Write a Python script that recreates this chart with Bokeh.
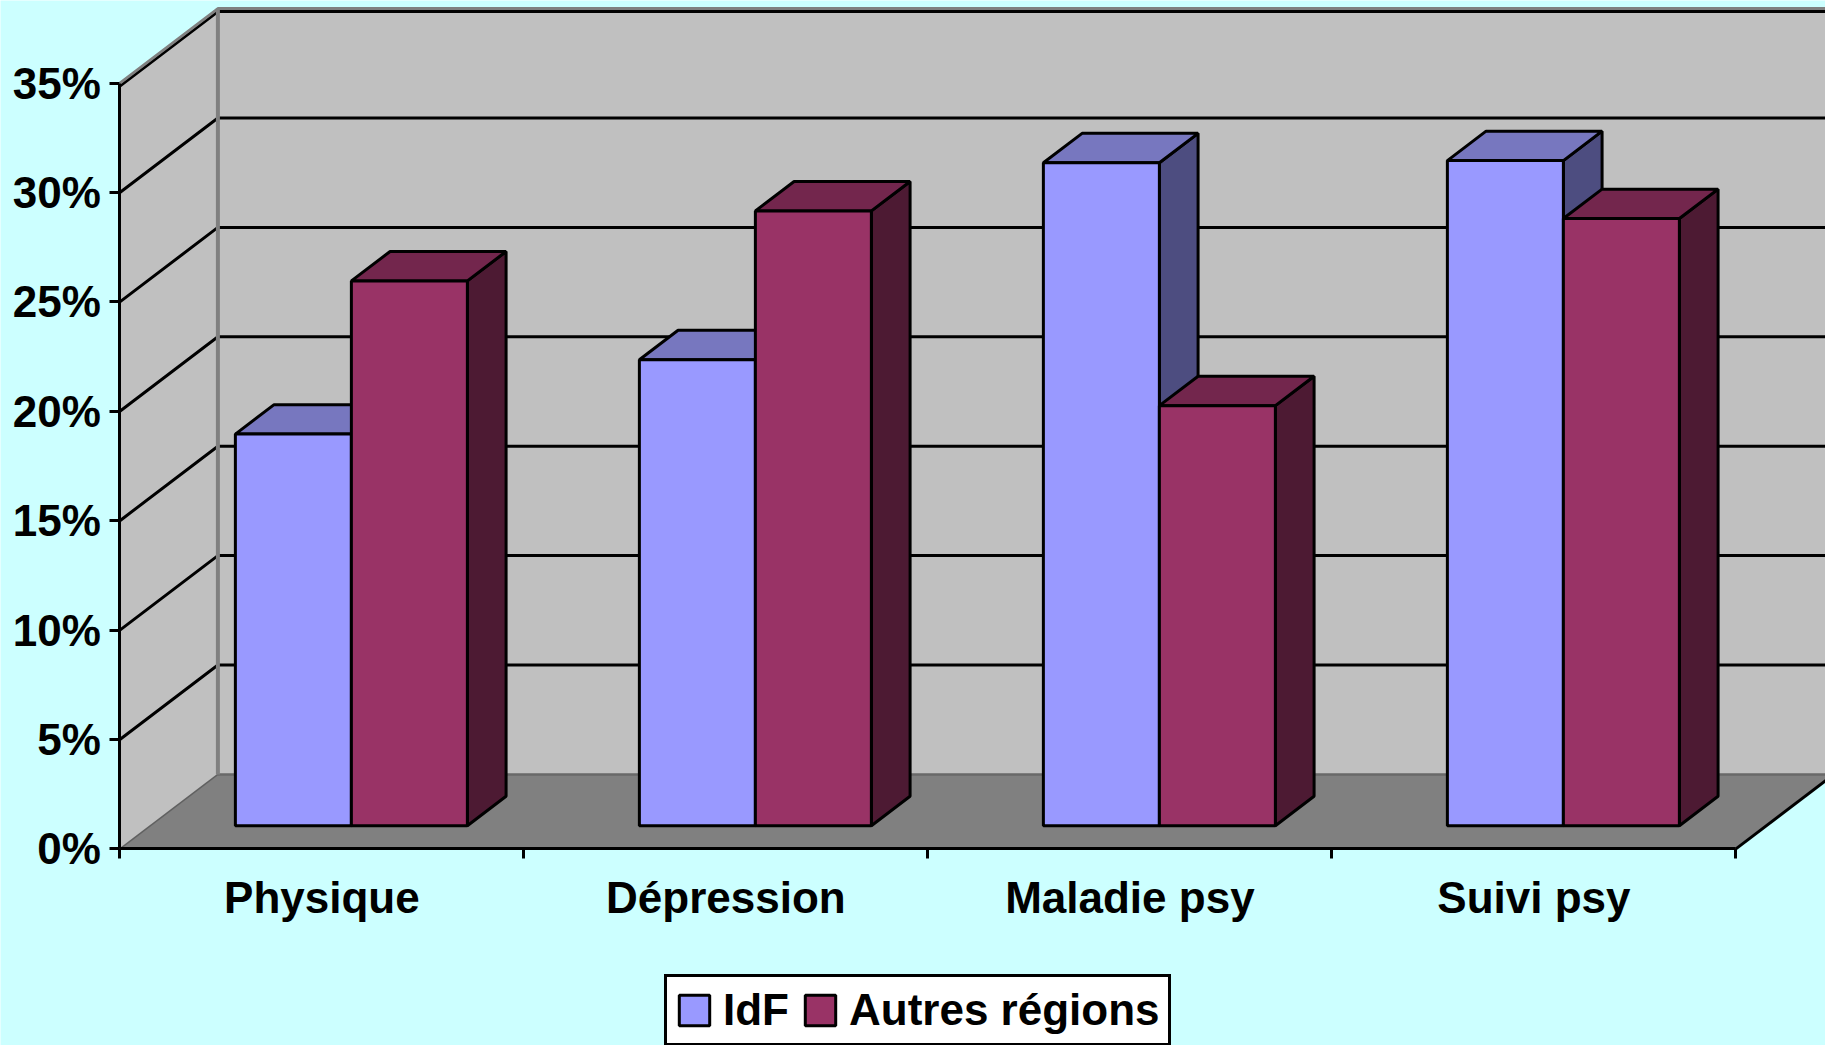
from bokeh.plotting import figure
from bokeh.models import Range1d, FixedTicker, Legend, LegendItem
from bokeh.embed import file_html
from bokeh.resources import INLINE

categories = ["Physique", "Dépression", "Maladie psy", "Suivi psy"]
series_names = ["IdF", "Autres régions"]
idf = [17.9, 21.3, 30.3, 30.4]
autres = [24.9, 28.1, 19.2, 27.75]
y_ticks = [0, 5, 10, 15, 20, 25, 30, 35]
y_labels = ["0%", "5%", "10%", "15%", "20%", "25%", "30%", "35%"]

BG = "#CCFFFF"
WALL = "#C0C0C0"
FLOOR = "#808080"
FONT = "Liberation Sans"
FONT_SIZE = "44px"
FRONT = ["#9999FF", "#993366"]
TOP = ["#7777BF", "#73264D"]
SIDE = ["#4D4D80", "#4D1A33"]

WIDTH, HEIGHT = 1825, 1045
ORIGIN_X, ORIGIN_Y = 119.4, 848.4   # page position of the front corner of the box
PX_CAT = 404.0       # pixels per category
PX_PCT = 21.88       # pixels per percentage point
DX = 98 / PX_CAT     # depth of the box, x
DY = 74.5 / PX_PCT   # depth of the box, y
D0, D1 = 0.311, 0.706  # depth span of the bars
GROUP_OFF = 85 / PX_CAT
BAR_W = 116 / PX_CAT
BOX_R = len(categories)
TOP_V = y_ticks[-1]

p = figure(width=WIDTH, height=HEIGHT, output_backend="svg", toolbar_location=None,
           x_range=Range1d(-ORIGIN_X / PX_CAT, (WIDTH - ORIGIN_X) / PX_CAT),
           y_range=Range1d(-(HEIGHT - ORIGIN_Y) / PX_PCT, ORIGIN_Y / PX_PCT),
           min_border=0, background_fill_color=BG, border_fill_color=BG, outline_line_color=None)
p.grid.visible = False

# walls and floor
p.patch([0, DX, DX, 0], [0, DY, TOP_V + DY, TOP_V], fill_color=WALL, line_color=None)
p.patch([DX, BOX_R + DX, BOX_R + DX, DX], [DY, DY, TOP_V + DY, TOP_V + DY], fill_color=WALL, line_color=None)
p.patch([0, BOX_R, BOX_R + DX, DX], [0, 0, DY, DY], fill_color=FLOOR, line_color=None)
p.line([0, DX], [0, DY], line_color="#606060", line_width=1.5)
p.line([DX, BOX_R + DX], [DY, DY], line_color="#696969", line_width=2.5)
p.line([BOX_R, BOX_R + DX], [0, DY], line_color="black", line_width=3)

# grid lines on the two walls
top_shift = 3 / PX_PCT
for v in y_ticks[1:]:
    s = top_shift if v == TOP_V else 0
    p.line([0, DX, BOX_R + DX], [v - s, v + DY - s, v + DY - s], line_color="black", line_width=3)
p.line([0, DX, BOX_R + DX], [TOP_V, TOP_V + DY, TOP_V + DY], line_color=FLOOR, line_width=3)
p.line([DX, DX], [DY, TOP_V + DY], line_color=FLOOR, line_width=4)

# bars
front_renderers = []
for s, values in enumerate([idf, autres]):
    xs0 = [i + GROUP_OFF + s * BAR_W + D0 * DX for i in range(len(values))]
    y0 = D0 * DY
    dxb, dyb = (D1 - D0) * DX, (D1 - D0) * DY
    for x, v in zip(xs0, values):
        yt = y0 + v
        p.patch([x + BAR_W, x + BAR_W + dxb, x + BAR_W + dxb, x + BAR_W],
                [y0, y0 + dyb, yt + dyb, yt], fill_color=SIDE[s], line_color="black", line_width=3)
        p.patch([x, x + dxb, x + BAR_W + dxb, x + BAR_W],
                [yt, yt + dyb, yt + dyb, yt], fill_color=TOP[s], line_color="black", line_width=3)
    r = p.quad(left=xs0, right=[x + BAR_W for x in xs0], bottom=[y0] * len(values),
               top=[y0 + v for v in values], fill_color=FRONT[s], line_color="black", line_width=3)
    front_renderers.append(r)

# axes, fixed at the front edges of the box
yax = p.yaxis[0]
yax.fixed_location = 0
yax.ticker = FixedTicker(ticks=y_ticks)
yax.major_label_overrides = dict(zip(y_ticks, y_labels))
yax.bounds = (0, TOP_V)
yax.axis_line_color = "black"
yax.axis_line_width = 3
yax.major_tick_line_color = "black"
yax.major_tick_line_width = 3
yax.major_tick_out = 10
yax.major_tick_in = 0
yax.minor_tick_line_color = None
yax.major_label_standoff = 9
yax.major_label_text_font = FONT
yax.major_label_text_font_style = "bold"
yax.major_label_text_font_size = FONT_SIZE
yax.major_label_text_color = "black"

xax = p.xaxis[0]
xax.fixed_location = 0
centres = [i + 0.5 for i in range(len(categories))]
xax.ticker = FixedTicker(ticks=centres, minor_ticks=list(range(len(categories) + 1)))
xax.major_label_overrides = dict(zip(centres, categories))
xax.bounds = (0, BOX_R)
xax.axis_line_color = "black"
xax.axis_line_width = 3
xax.major_tick_line_color = None
xax.major_tick_out = 0
xax.major_tick_in = 0
xax.minor_tick_line_color = "black"
xax.minor_tick_line_width = 3
xax.minor_tick_out = 10
xax.minor_tick_in = 0
xax.major_label_standoff = 14
xax.major_label_text_font = FONT
xax.major_label_text_font_style = "bold"
xax.major_label_text_font_size = FONT_SIZE
xax.major_label_text_color = "black"

# legend
legend = Legend(
    items=[LegendItem(label=n, renderers=[r]) for n, r in zip(series_names, front_renderers)],
    orientation="horizontal", location=(664, -1), margin=0, padding=8, spacing=12,
    glyph_width=38, glyph_height=38, label_standoff=10,
    label_text_font=FONT, label_text_font_style="bold", label_text_font_size=FONT_SIZE,
    label_text_color="black", background_fill_color="white", background_fill_alpha=1,
    border_line_color="black", border_line_alpha=1, border_line_width=3)
p.add_layout(legend, "center")

open("out.html", "w").write(file_html(p, INLINE))
